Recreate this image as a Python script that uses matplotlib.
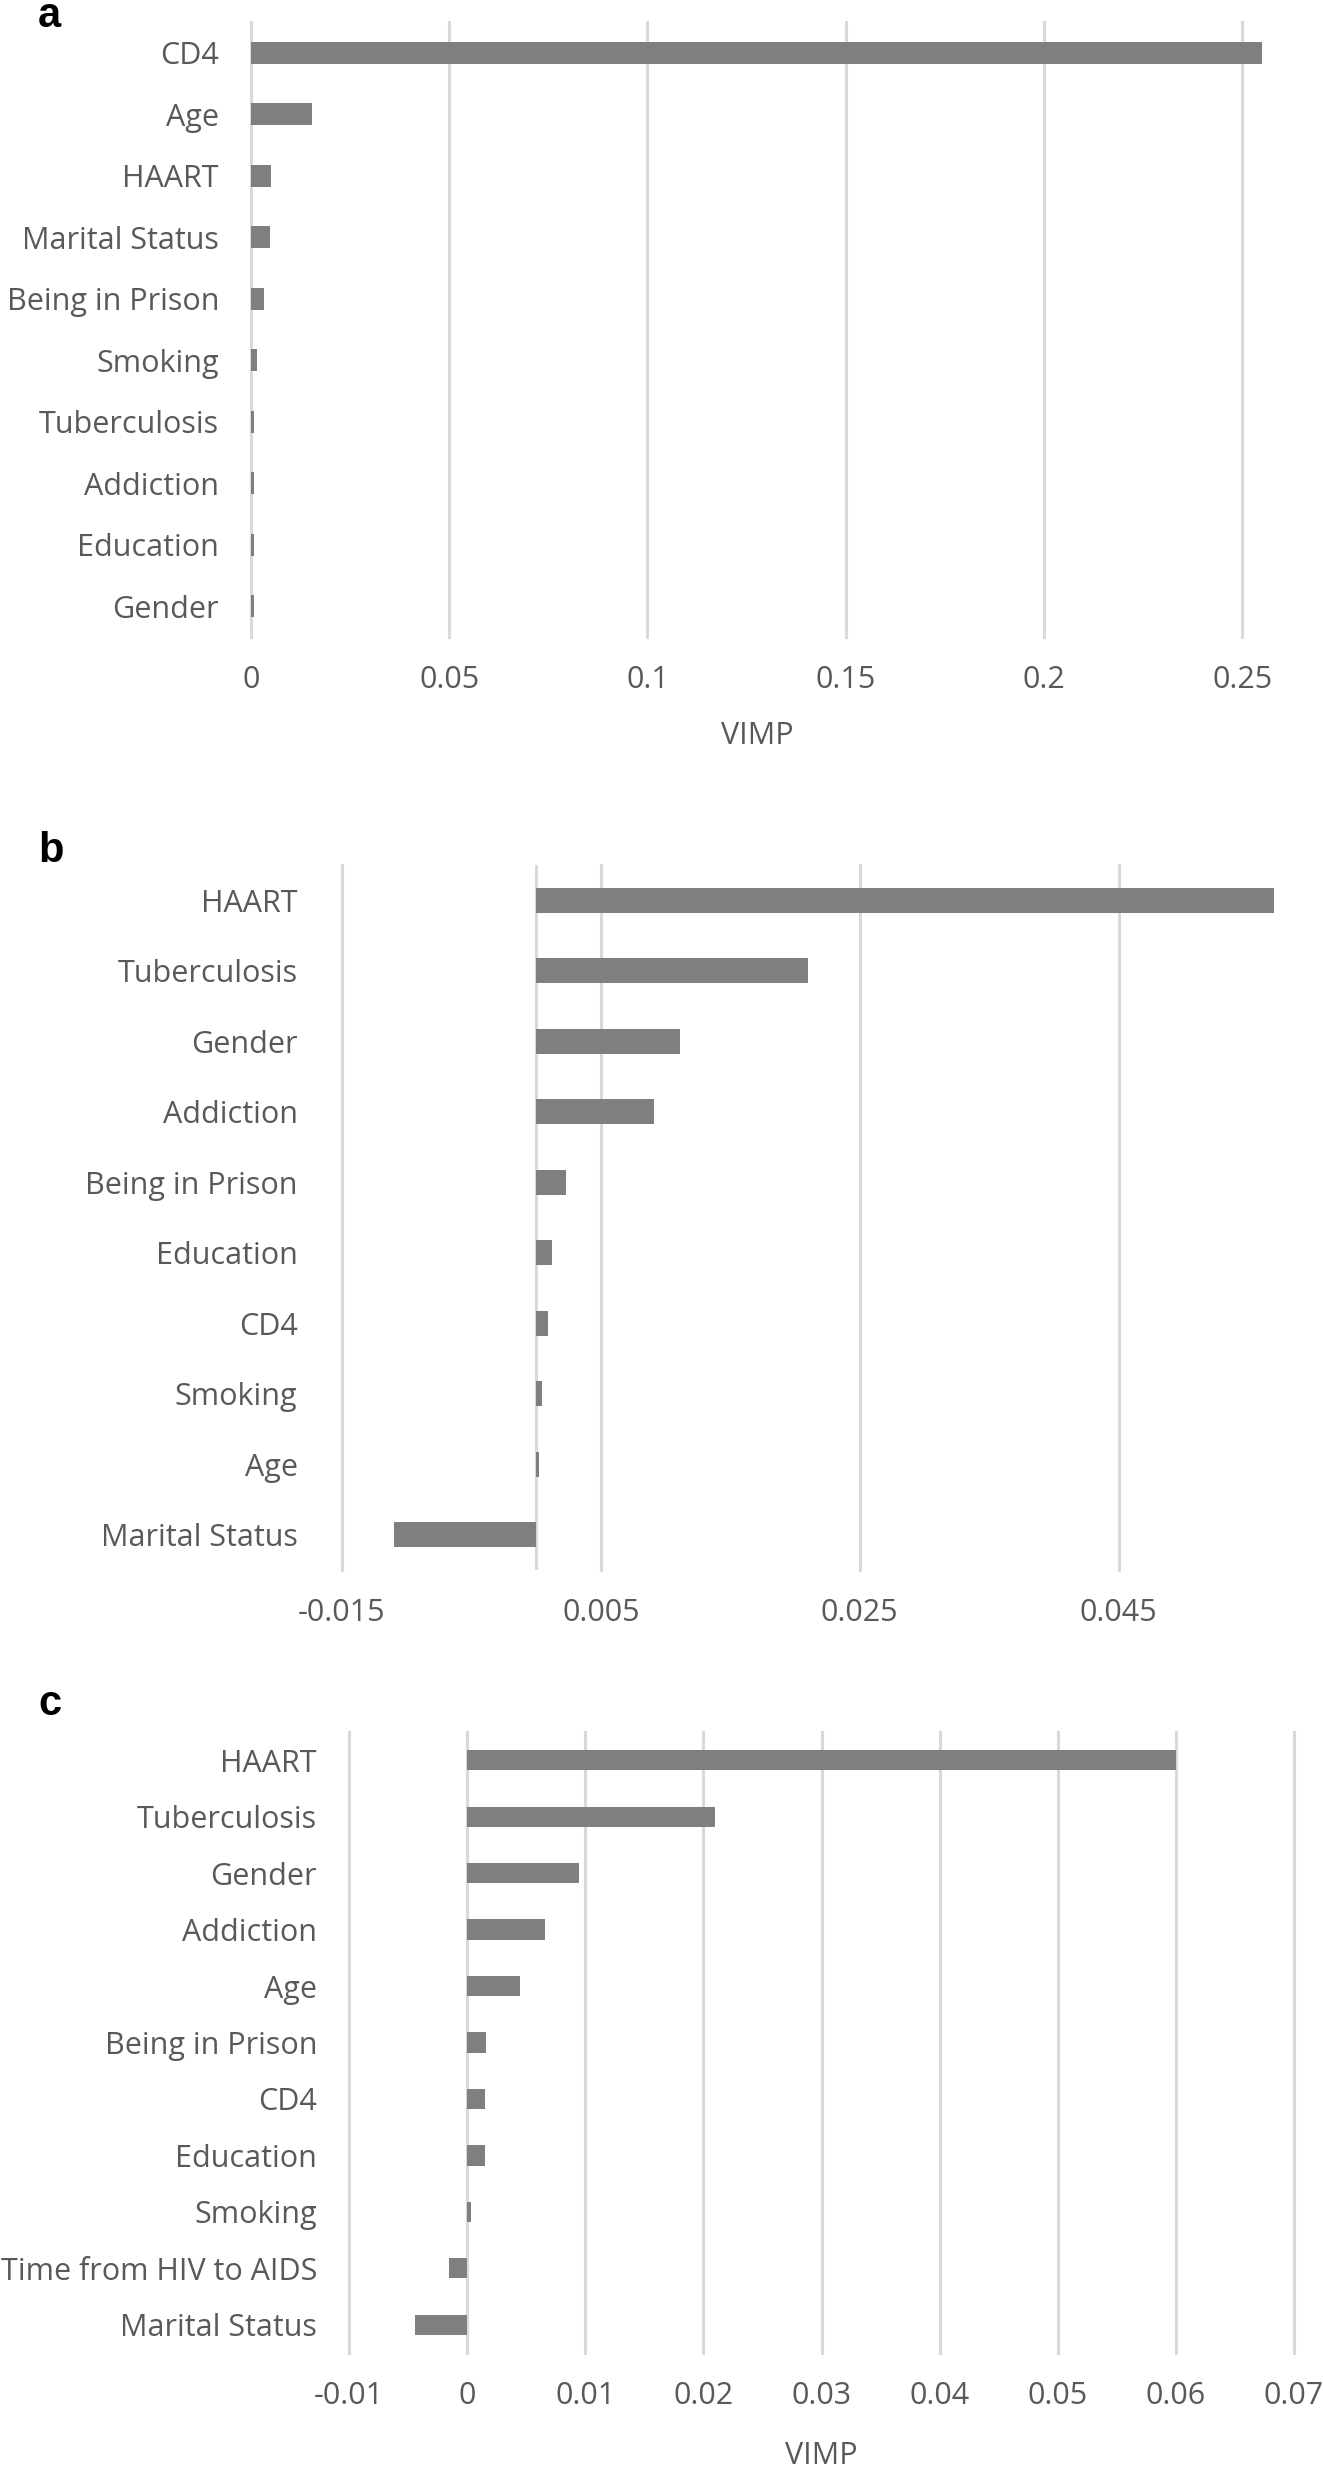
import matplotlib
matplotlib.use('Agg')
import matplotlib.pyplot as plt

# Panel a
cats_a = ['CD4', 'Age', 'HAART', 'Marital Status', 'Being in Prison', 'Smoking',
          'Tuberculosis', 'Addiction', 'Education', 'Gender']
vals_a = [0.2549, 0.0153, 0.0051, 0.0047, 0.0032, 0.0015, 0.0008, 0.0008, 0.0008, 0.0008]
ticks_a = [0, 0.05, 0.1, 0.15, 0.2, 0.25]
ticklabels_a = ['0', '0.05', '0.1', '0.15', '0.2', '0.25']

# Panel b
cats_b = ['HAART', 'Tuberculosis', 'Gender', 'Addiction', 'Being in Prison', 'Education',
          'CD4', 'Smoking', 'Age', 'Marital Status']
vals_b = [0.0570, 0.0210, 0.0111, 0.0091, 0.0023, 0.0012, 0.0009, 0.00046, 0.0002, -0.0110]
ticks_b = [-0.015, 0.005, 0.025, 0.045]
ticklabels_b = ['-0.015', '0.005', '0.025', '0.045']

# Panel c
cats_c = ['HAART', 'Tuberculosis', 'Gender', 'Addiction', 'Age', 'Being in Prison', 'CD4',
          'Education', 'Smoking', 'Time from HIV to AIDS', 'Marital Status']
vals_c = [0.0600, 0.0210, 0.0095, 0.0066, 0.0045, 0.00157, 0.0015, 0.0015, 0.0003, -0.0015, -0.0044]
ticks_c = [-0.01, 0, 0.01, 0.02, 0.03, 0.04, 0.05, 0.06, 0.07]
ticklabels_c = ['-0.01', '0', '0.01', '0.02', '0.03', '0.04', '0.05', '0.06', '0.07']

BAR = '#7f7f7f'
GRID = '#d9d9d9'
TEXT = '#595959'
FS = 22
W, H = 1323, 2465

plt.rcParams['font.family'] = ['Open Sans', 'DejaVu Sans']
fig = plt.figure(figsize=(W / 100, H / 100), dpi=100)


def panel(left, right, top, bottom, cats, vals, ticks, labels, xlim, ypad, letter, letter_base, vimp_y=None):
    ax = fig.add_axes([left / W, 1 - bottom / H, (right - left) / W, (bottom - top) / H])
    y = list(range(len(cats)))
    ax.barh(y, vals, height=0.36, color=BAR, zorder=3)
    ax.set_ylim(len(cats) - 0.5, -0.5)
    ax.set_xlim(*xlim)
    ax.set_yticks(y)
    ax.set_yticklabels(cats, fontsize=FS, color=TEXT)
    ax.set_xticks(ticks)
    ax.set_xticklabels(labels, fontsize=FS, color=TEXT)
    ax.tick_params(length=0)
    ax.tick_params(axis='y', pad=ypad)
    ax.tick_params(axis='x', pad=20)
    for s in ax.spines.values():
        s.set_visible(False)
    ax.xaxis.grid(True, color=GRID, linewidth=2.2, zorder=0)
    for line in ax.get_xgridlines():
        line.set_clip_on(False)
    ax.axvline(0, color=GRID, linewidth=2.2, zorder=1)
    ax.set_axisbelow(True)
    fig.text(38 / W, 1 - letter_base / H, letter, fontsize=30, fontweight='bold',
             family='Liberation Sans', va='baseline', ha='left', color='black')
    if vimp_y is not None:
        fig.text((left + right) / 2 / W, 1 - vimp_y / H, 'VIMP', fontsize=FS,
                 color=TEXT, ha='center', va='center')
    return ax


panel(251, 1264, 22, 637, cats_a, vals_a, ticks_a, ticklabels_a, (0, 0.2555), 23, 'a', 27, 736)
panel(342, 1274, 865, 1570, cats_b, vals_b, ticks_b, ticklabels_b, (-0.015, 0.057), 32, 'b', 862)
panel(349, 1294, 1732, 2353, cats_c, vals_c, ticks_c, ticklabels_c, (-0.01, 0.07), 23, 'c', 1715, 2456)

fig.savefig('out.png', dpi=100, facecolor='white')
